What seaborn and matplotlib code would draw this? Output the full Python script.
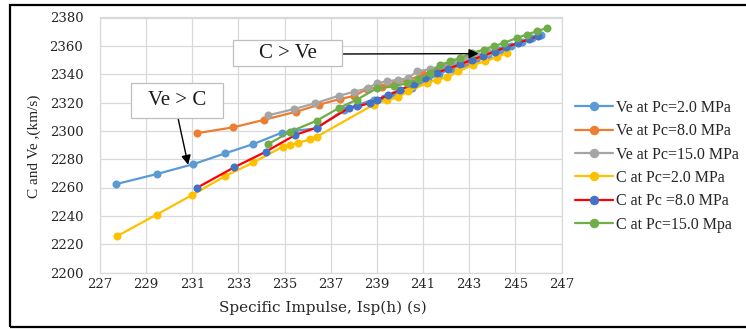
import matplotlib
matplotlib.use("Agg")
import matplotlib.pyplot as plt
from matplotlib.patches import Rectangle
from matplotlib.lines import Line2D
import seaborn as sns
import pandas as pd

# ---------------- data ----------------
ve2_x = [227.7, 229.46, 231.05, 232.42, 233.65, 234.88, 235.4, 236.4, 237.56, 238.2, 238.86, 239.3, 239.7,
         240.5, 241.2, 241.7, 242.2, 242.8, 243.3, 243.8, 244.35, 244.8, 245.3, 245.7, 246.1]
ve2_y = [2262.4, 2269.5, 2276.5, 2284.1, 2290.7, 2298.7, 2300.0, 2301.8, 2314.8, 2318.5, 2322.0, 2323.0, 2325.0,
         2330.0, 2336.0, 2340.0, 2344.0, 2347.0, 2350.0, 2353.0, 2357.0, 2360.0, 2363.0, 2365.5, 2367.5]

ve8_x = [231.19, 232.78, 234.09, 235.5, 236.5, 237.4, 238.0, 238.57, 239.2, 239.8, 240.4, 241.0, 241.6, 242.2,
         242.8, 243.4]
ve8_y = [2298.3, 2302.5, 2307.7, 2313.5, 2318.5, 2322.5, 2324.5, 2329.5, 2331.0, 2333.5, 2336.0, 2340.0, 2343.0,
         2346.5, 2349.5, 2352.5]

ve15_x = [234.3, 235.39, 236.33, 237.34, 238.0, 238.6, 239.0, 239.44, 239.9, 240.35, 240.73, 241.3, 241.8,
          242.3, 242.8, 243.3, 243.8]
ve15_y = [2311.0, 2315.3, 2319.5, 2324.7, 2327.5, 2330.0, 2333.7, 2334.9, 2336.0, 2337.0, 2342.0, 2343.5,
          2346.0, 2348.5, 2351.0, 2353.5, 2356.0]

c2_x = [227.72, 229.46, 230.98, 232.42, 233.65, 234.92, 235.24, 235.6, 236.11, 236.4, 238.86, 239.44, 239.93,
        240.36, 241.17, 241.6, 242.04, 242.53, 243.18, 243.7, 244.2, 244.64]
c2_y = [2225.5, 2240.9, 2254.6, 2268.0, 2277.7, 2288.8, 2290.0, 2291.6, 2294.0, 2295.9, 2318.5, 2321.9, 2324.2,
        2327.8, 2333.7, 2336.1, 2337.7, 2342.0, 2346.7, 2349.0, 2352.2, 2355.0]

c8_x = [231.19, 232.81, 234.19, 235.46, 236.4, 237.77, 238.13, 238.71, 239.0, 239.5, 240.0, 240.6, 241.1, 241.6,
        242.1, 242.6, 243.1, 243.6, 244.1, 244.6, 245.1, 245.6, 246.0]
c8_y = [2259.7, 2274.2, 2285.3, 2297.1, 2302.3, 2316.0, 2317.2, 2319.6, 2322.0, 2325.0, 2329.0, 2333.0, 2337.0,
        2341.0, 2344.0, 2347.0, 2350.0, 2353.0, 2356.0, 2359.0, 2362.0, 2364.5, 2367.0]

c15_x = [234.3, 235.24, 236.4, 237.34, 238.13, 239.0, 239.72, 240.3, 240.8, 241.3, 241.75, 242.18, 242.62,
         243.13, 243.63, 244.06, 244.5, 245.07, 245.5, 245.94, 246.38]
c15_y = [2290.7, 2299.4, 2307.2, 2316.0, 2322.0, 2330.0, 2331.3, 2333.7, 2336.5, 2341.0, 2346.5, 2349.0, 2351.5,
         2355.0, 2357.3, 2359.7, 2362.0, 2365.6, 2368.0, 2370.3, 2372.7]

labels = ["Ve at Pc=2.0 MPa", "Ve at Pc=8.0 MPa", "Ve at Pc=15.0 MPa",
          "C at Pc=2.0 MPa", "C at Pc =8.0 MPa", "C at Pc=15.0 Mpa"]
xs = [ve2_x, ve8_x, ve15_x, c2_x, c8_x, c15_x]
ys = [ve2_y, ve8_y, ve15_y, c2_y, c8_y, c15_y]

x_ticks = list(range(227, 248, 2))
y_ticks = list(range(2200, 2381, 20))

line_colors = ["#5B9BD5", "#ED7D31", "#A5A5A5", "#FFC000", "#FF0000", "#70AD47"]
marker_colors = ["#5B9BD5", "#ED7D31", "#A5A5A5", "#FFC000", "#4472C4", "#70AD47"]

# ---------------- figure ----------------
sns.set_theme(style="white")
plt.rcParams["font.family"] = ["Liberation Serif", "DejaVu Serif"]

W, H = 746, 329
fig = plt.figure(figsize=(W / 100, H / 100), dpi=100)
left, right, top, bottom = 100, 561.5, 17.5, 272.5
ax = fig.add_axes([left / W, (H - bottom) / H, (right - left) / W, (bottom - top) / H])

for lab, x, y, lc, mc in zip(labels, xs, ys, line_colors, marker_colors):
    df = pd.DataFrame({"x": x, "y": y})
    sns.lineplot(data=df, x="x", y="y", ax=ax, sort=False, color=lc, linewidth=1.6,
                 marker="o", markersize=5.8, markerfacecolor=mc, markeredgecolor=mc,
                 markeredgewidth=0, label=None, legend=False)

ax.set_xlim(227, 247)
ax.set_ylim(2200, 2380)
ax.set_xticks(x_ticks)
ax.set_yticks(y_ticks)
ax.grid(True, color="#d9d9d9", linewidth=0.9)
ax.set_axisbelow(True)
for s in ax.spines.values():
    s.set_color("#d9d9d9")
    s.set_linewidth(0.9)
ax.tick_params(axis="both", labelsize=9.5, colors="#262626", length=0)
ax.tick_params(axis="y", pad=12)
ax.tick_params(axis="x", pad=4)
for t in ax.get_xticklabels() + ax.get_yticklabels():
    t.set_fontfamily("DejaVu Serif")
ax.set_xlabel("")
ax.set_ylabel("")

fig.text(34 / W, 1 - 146 / H, "C and Ve ,(km/s)", rotation=90, ha="center", va="center",
         fontsize=11, color="#262626")
fig.text(323 / W, 1 - 308 / H, "Specific Impulse, Isp(h) (s)", ha="center", va="center",
         fontsize=11, color="#262626", family="DejaVu Serif")

# legend
handles = [Line2D([0], [0], color=lc, marker="o", markersize=5.8, markerfacecolor=mc,
                  markeredgecolor=mc, linewidth=1.6) for lc, mc in zip(line_colors, marker_colors)]
fig.legend(handles, labels, loc="upper left", bbox_to_anchor=(575 / W, 1 - 100 / H),
           frameon=False, fontsize=11.5, handlelength=2.4, labelspacing=0.46,
           handletextpad=0.15, borderaxespad=0, borderpad=0)


def px_to_fig(px, py):
    return px / W, 1 - py / H


# annotation boxes
for (x0, y0, x1, y1, txt) in [(233, 40, 342, 66, "C > Ve"), (131, 83, 223, 118, "Ve > C")]:
    fx0, fy1 = px_to_fig(x0, y1)
    rect = Rectangle((fx0, fy1), (x1 - x0) / W, (y1 - y0) / H, transform=fig.transFigure,
                     facecolor="white", edgecolor="#bfbfbf", linewidth=0.9, zorder=10)
    fig.patches.append(rect)
    cx, cy = px_to_fig((x0 + x1) / 2, (y0 + y1) / 2)
    fig.text(cx, cy, txt, ha="center", va="center", fontsize=15, color="#1a1a1a", zorder=11)

# arrows
ax.annotate("", xy=(243.4, 2354.5), xycoords="data",
            xytext=px_to_fig(342, 54), textcoords="figure fraction",
            arrowprops=dict(arrowstyle="-|>", color="black", lw=1.0, mutation_scale=14,
                            shrinkA=0, shrinkB=0), zorder=12)
ax.annotate("", xy=(230.82, 2276.0), xycoords="data",
            xytext=px_to_fig(178, 118), textcoords="figure fraction",
            arrowprops=dict(arrowstyle="-|>", color="black", lw=1.0, mutation_scale=14,
                            shrinkA=0, shrinkB=0), zorder=12)

# outer frame (cut at the right edge)
frame = Rectangle((10 / W, 1 - 327 / H), (W + 20) / W, (327 - 5) / H, transform=fig.transFigure,
                  facecolor="none", edgecolor="black", linewidth=1.6, zorder=20, clip_on=False)
fig.patches.append(frame)

fig.savefig("out.png", dpi=100)
